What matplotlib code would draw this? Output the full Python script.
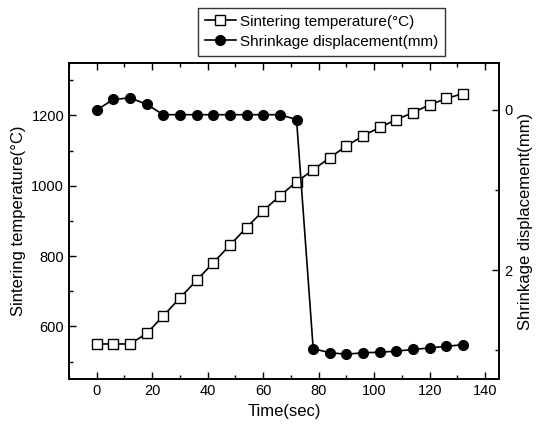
import matplotlib
matplotlib.use("Agg")
import matplotlib.pyplot as plt
from matplotlib.ticker import MultipleLocator

plt.rcParams['font.family'] = ['Liberation Sans', 'DejaVu Sans']

time_s = [0, 6, 12, 18, 24, 30, 36, 42, 48, 54, 60, 66, 72, 78, 84, 90, 96, 102, 108, 114, 120, 126, 132]
temperature = [550, 550, 550, 580, 630, 681, 731, 781, 831, 881, 929, 971, 1011,
               1045, 1080, 1113, 1142, 1166, 1188, 1208, 1230, 1248, 1262]
displacement = [0.0, -0.13, -0.15, -0.07, 0.06, 0.06, 0.06, 0.06, 0.06, 0.06, 0.06, 0.06, 0.12,
                2.98, 3.03, 3.05, 3.03, 3.025, 3.01, 2.99, 2.97, 2.95, 2.93]

label_temp = "Sintering temperature(°C)"
label_disp = "Shrinkage displacement(mm)"

fig = plt.figure(figsize=(5.39, 4.26), dpi=100)
ax = fig.add_axes([0.128, 0.110, 0.798, 0.743])
ax2 = ax.twinx()

l1, = ax.plot(time_s, temperature, color='black', lw=1.2, marker='s', ms=6.5,
              mfc='white', mec='black', mew=1.0, label=label_temp)
l2, = ax2.plot(time_s, displacement, color='black', lw=1.2, marker='o', ms=7,
               mfc='black', mec='black', label=label_disp)

ax.set_xlim(-10, 145)
ax.set_ylim(450, 1350)
ax2.set_ylim(3.36, -0.59)

ax.xaxis.set_major_locator(MultipleLocator(20))
ax.xaxis.set_minor_locator(MultipleLocator(10))
ax.yaxis.set_major_locator(MultipleLocator(200))
ax.yaxis.set_minor_locator(MultipleLocator(100))
ax2.yaxis.set_major_locator(MultipleLocator(2))
ax2.yaxis.set_minor_locator(MultipleLocator(1))

ax.tick_params(which='both', direction='in', top=True, right=False, labelsize=10.5)
ax.tick_params(which='major', length=5, width=1)
ax.tick_params(which='minor', length=3, width=1)
ax2.tick_params(which='both', direction='in', labelsize=10.5)
ax2.tick_params(which='major', length=5, width=1)
ax2.tick_params(which='minor', length=3, width=1)

for a in (ax, ax2):
    for s in a.spines.values():
        s.set_linewidth(1.2)

ax.set_xlabel("Time(sec)", fontsize=12)
ax.set_ylabel(label_temp, fontsize=12)
ax2.set_ylabel(label_disp, fontsize=12)

leg = fig.legend(handles=[l1, l2], loc='upper center', bbox_to_anchor=(0.597, 1.0),
                 fontsize=11, frameon=True, fancybox=False, edgecolor='black',
                 handlelength=2.0, borderpad=0.45, labelspacing=0.4, handletextpad=0.3)
leg.get_frame().set_linewidth(1.0)

fig.savefig("out.png", dpi=100)
